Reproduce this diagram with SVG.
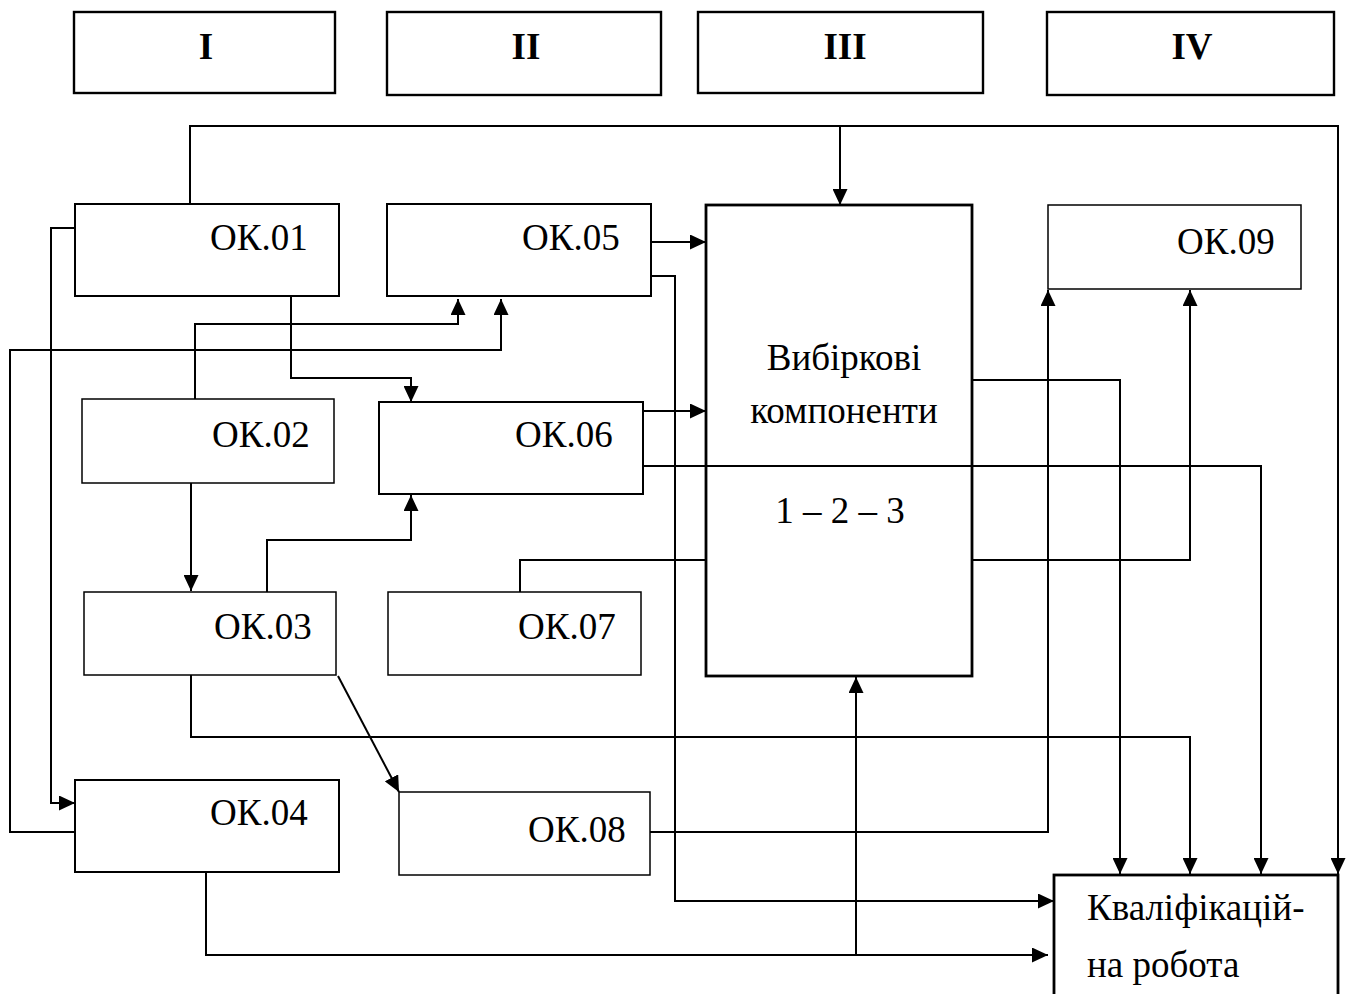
<svg xmlns="http://www.w3.org/2000/svg" width="1350" height="994" viewBox="0 0 1350 994">
<style>
.bg{fill:#ffffff}
.box{fill:#ffffff;stroke:#000;stroke-width:2}
.thin{fill:#ffffff;stroke:#000;stroke-width:1.5}
.thick{fill:#ffffff;stroke:#000;stroke-width:2.8}
.hdr{fill:#ffffff;stroke:#000;stroke-width:2.4}
.ln{fill:none;stroke:#000;stroke-width:2}
.arr{marker-end:url(#ah)}
.t{font-family:"Liberation Serif","Times New Roman",serif;font-size:37px;fill:#000}
.h{font-family:"Liberation Serif","Times New Roman",serif;font-size:37px;font-weight:bold;fill:#000;text-anchor:middle}
.c{text-anchor:middle}
</style>
<defs>
<marker id="ah" markerUnits="userSpaceOnUse" markerWidth="17" markerHeight="15" refX="16" refY="7.5" orient="auto">
<path d="M0,0 L16,7.5 L0,15 Z" fill="#000"/>
</marker>
</defs>
<rect class="bg" x="0" y="0" width="1350" height="994"/>

<g id="headers">
<g id="h1"><rect class="hdr" x="74" y="12" width="261" height="81"/><text class="h" x="206" y="59">I</text></g>
<g id="h2"><rect class="hdr" x="387" y="12" width="274" height="83"/><text class="h" x="526" y="59">II</text></g>
<g id="h3"><rect class="hdr" x="698" y="12" width="285" height="81"/><text class="h" x="845" y="59">III</text></g>
<g id="h4"><rect class="hdr" x="1047" y="12" width="287" height="83"/><text class="h" x="1192" y="59">IV</text></g>
</g>

<g id="connectors">
<path class="ln arr" d="M190,204 V126 H1338 V874"/>
<path class="ln arr" d="M840,126 V205"/>
<path class="ln arr" d="M75,228 H51 V803 H75"/>
<path class="ln arr" d="M291,296 V378 H411 V402"/>
<path class="ln arr" d="M195,399 V324 H458 V299"/>
<path class="ln arr" d="M75,832 H10 V350 H501 V299"/>
<path class="ln arr" d="M651,242 H706"/>
<path class="ln arr" d="M651,276 H675 V901 H1054"/>
<path class="ln arr" d="M643,411 H706"/>
<path class="ln arr" d="M643,466 H1261 V874"/>
<path class="ln arr" d="M191,483 V591"/>
<path class="ln arr" d="M267,592 V540 H411 V495"/>
<path class="ln" d="M520,592 V560 H706"/>
<path class="ln arr" d="M972,560 H1190 V290"/>
<path class="ln arr" d="M972,380 H1120 V874"/>
<path class="ln arr" d="M191,675 V737 H1190 V874"/>
<path class="ln arr" d="M338,676 L399,792"/>
<path class="ln arr" d="M650,832 H1048 V290"/>
<path class="ln arr" d="M206,872 V955 H1048"/>
<path class="ln arr" d="M856,955 V677"/>
</g>

<g id="ok01"><rect class="box" x="75" y="204" width="264" height="92"/><text class="t" x="210" y="250">ОК.01</text></g>
<g id="ok05"><rect class="box" x="387" y="204" width="264" height="92"/><text class="t" x="522" y="250">ОК.05</text></g>
<g id="ok02"><rect class="thin" x="82" y="399" width="252" height="84"/><text class="t" x="212" y="447">ОК.02</text></g>
<g id="ok06"><rect class="box" x="379" y="402" width="264" height="92"/><text class="t" x="515" y="447">ОК.06</text></g>
<g id="ok03"><rect class="thin" x="84" y="592" width="252" height="83"/><text class="t" x="214" y="639">ОК.03</text></g>
<g id="ok07"><rect class="thin" x="388" y="592" width="253" height="83"/><text class="t" x="518" y="639">ОК.07</text></g>
<g id="ok04"><rect class="box" x="75" y="780" width="264" height="92"/><text class="t" x="210" y="825">ОК.04</text></g>
<g id="ok08"><rect class="thin" x="399" y="792" width="251" height="83"/><text class="t" x="528" y="842">ОК.08</text></g>
<g id="ok09"><rect class="thin" x="1048" y="205" width="253" height="84"/><text class="t" x="1177" y="254">ОК.09</text></g>

<g id="vybirkovi">
<rect class="thick" x="706" y="205" width="266" height="471" style="fill:none"/>
<text class="t c" x="844" y="370">Вибіркові</text>
<text class="t c" x="844" y="423">компоненти</text>
<text class="t c" x="840" y="523">1 – 2 – 3</text>
</g>

<g id="kval">
<rect class="thick" x="1054" y="875" width="284" height="140"/>
<text class="t" x="1087" y="920">Кваліфікацій-</text>
<text class="t" x="1087" y="977">на робота</text>
</g>
</svg>
